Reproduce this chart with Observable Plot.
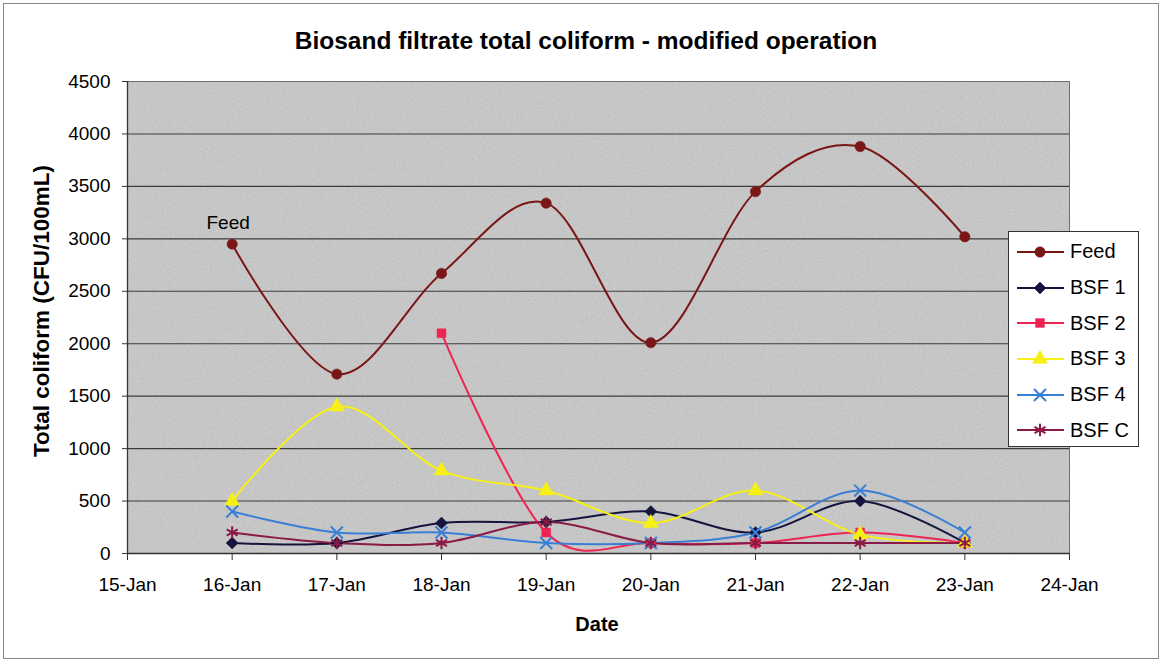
<!DOCTYPE html>
<html>
<head>
<meta charset="utf-8">
<script src="https://cdn.jsdelivr.net/npm/d3@7"></script>
<script src="https://cdn.jsdelivr.net/npm/@observablehq/plot@0.6"></script>
<style>
  html, body { margin: 0; padding: 0; background: #fff; }
  #wrap { position: relative; width: 1162px; height: 662px; font-family: "Liberation Sans", Arial, sans-serif; color: #000; overflow: hidden; }
  #border { position: absolute; left: 3px; top: 3px; width: 1154px; height: 654px; border: 1.5px solid #8a8a8a; pointer-events: none; }
  #title { position: absolute; left: 0; top: 27px; width: 1172px; text-align: center; font-weight: bold; font-size: 24.5px; }
  #xtitle { position: absolute; left: 547px; width: 100px; top: 613px; text-align: center; font-weight: bold; font-size: 20px; }
  #ytitle { position: absolute; left: 42px; top: 311px; transform: translate(-50%, -50%) rotate(-90deg); white-space: nowrap; font-weight: bold; font-size: 22.5px; }
  #legend { position: absolute; left: 1008px; top: 231px; width: 131px; height: 216px; border: 1.2px solid #333; background: #fff; box-sizing: border-box; padding-top: 2px; }
  .row { height: 35.7px; display: flex; align-items: center; font-size: 20px; }
  .row svg { flex: none; }
  .row span { margin-left: 1px; }
  #chart { position: absolute; left: 0; top: 0; }
</style>
</head>
<body>
<div id="wrap">
  <div id="chart"></div>
  <div id="title">Biosand filtrate total coliform - modified operation</div>
  <div id="xtitle">Date</div>
  <div id="ytitle">Total coliform (CFU/100mL)</div>
  <div id="legend"></div>
  <div id="border"></div>
</div>
<script>
// ---- data ----
const dayNums = [16, 17, 18, 19, 20, 21, 22, 23];
const feed = [2950, 1710, 2670, 3340, 2010, 3450, 3880, 3020];
const bsf1 = [100, 100, 290, 300, 400, 200, 500, 100];
const bsf2 = [null, null, 2100, 200, 100, 100, 200, 100];
const bsf3 = [500, 1400, 790, 600, 290, 600, 180, 100];
const bsf4 = [400, 200, 200, 100, 100, 200, 600, 200];
const bsfC = [200, 100, 100, 300, 100, 100, 100, 100];
const seriesNames = ["Feed", "BSF 1", "BSF 2", "BSF 3", "BSF 4", "BSF C"];
const seriesValues = [feed, bsf1, bsf2, bsf3, bsf4, bsfC];
const xDomainDays = [15, 24];
const yTicks = [0, 500, 1000, 1500, 2000, 2500, 3000, 3500, 4000, 4500];
const annotation = {series: "Feed", day: 16, text: "Feed"};

// ---- styles ----
const styles = {
  "Feed":  {color: "#7a1616", symbol: "circle",   filled: true,  r: 5.2},
  "BSF 1": {color: "#14143e", symbol: "diamond2", filled: true,  r: 5.4},
  "BSF 2": {color: "#ee2452", symbol: "square",   filled: true,  r: 5.0},
  "BSF 3": {color: "#f6f015", symbol: "triangle", filled: true,  r: 5.6},
  "BSF 4": {color: "#3a7fd6", symbol: "times",    filled: false, r: 5.5},
  "BSF C": {color: "#8a1a46", symbol: "asterisk", filled: false, r: 6.0}
};

const toDate = d => new Date(Date.UTC(2007, 0, d));
const rows = [];
seriesNames.forEach((name, i) => {
  seriesValues[i].forEach((v, j) => {
    if (v != null) rows.push({series: name, date: toDate(dayNums[j]), value: v});
  });
});

const lineMarks = [];
const dotMarks = [];
for (const name of seriesNames) {
  const s = styles[name];
  const data = rows.filter(r => r.series === name);
  lineMarks.push(Plot.line(data, {x: "date", y: "value", stroke: s.color, strokeWidth: 2, curve: "cardinal"}));
  dotMarks.push(Plot.dot(data, s.filled
    ? {x: "date", y: "value", symbol: s.symbol, r: s.r, fill: s.color, stroke: s.color, strokeWidth: 0.5}
    : {x: "date", y: "value", symbol: s.symbol, r: s.r, stroke: s.color, strokeWidth: 2, fill: "none"}));
}

const annRow = rows.filter(r => r.series === annotation.series && +r.date === +toDate(annotation.day));

const svg = Plot.plot({
  width: 1162,
  height: 662,
  marginLeft: 127,
  marginRight: 93,
  marginTop: 81,
  marginBottom: 109,
  style: {fontFamily: "'Liberation Sans', Arial, sans-serif", fontSize: "19px", color: "#000", background: "transparent", overflow: "visible"},
  x: {type: "utc", domain: xDomainDays.map(toDate)},
  y: {domain: [0, 4500]},
  marks: [
    Plot.frame({fill: "#cbcbcb"}),
    Plot.frame({fill: "#cbcbcb", className: "noise"}),
    Plot.gridY(yTicks, {stroke: "#3c3c3c", strokeOpacity: 1, strokeWidth: 1.1}),
    Plot.frame({stroke: "#6e6e6e", strokeWidth: 1}),
    Plot.axisY(yTicks, {tickSize: 5, tickPadding: 12, stroke: "#333", label: null, tickFormat: d => String(d), fontSize: 19}),
    Plot.axisX({ticks: d3.utcDay.every(1), tickFormat: d3.utcFormat("%-d-%b"), tickSize: 7, tickPadding: 17, stroke: "#333", label: null, fontSize: 19}),
    Plot.ruleY([0], {stroke: "#333", strokeWidth: 1.3}),
    Plot.ruleX([toDate(xDomainDays[0])], {stroke: "#333", strokeWidth: 1.3}),
    ...lineMarks,
    ...dotMarks,
    Plot.text(annRow, {x: "date", y: "value", text: () => annotation.text, dy: -21, dx: -4, fontSize: 19, fill: "#000"})
  ]
});

// subtle scanned-paper texture on the plot area
const ns = "http://www.w3.org/2000/svg";
const defs = document.createElementNS(ns, "defs");
defs.innerHTML = `<filter id="noiseF" x="0" y="0" width="1" height="1" filterUnits="objectBoundingBox">
  <feTurbulence type="fractalNoise" baseFrequency="0.9" numOctaves="2" seed="7" result="t"/>
  <feColorMatrix in="t" type="matrix" values="0.33 0.33 0.33 0 0  0.33 0.33 0.33 0 0  0.33 0.33 0.33 0 0  0 0 0 0 0.3"/>
</filter>`;
svg.insertBefore(defs, svg.firstChild);
d3.select(svg).selectAll(".noise").attr("filter", "url(#noiseF)");

document.getElementById("chart").appendChild(svg);

// ---- legend ----
const legend = d3.select("#legend");
const symMap = {circle: d3.symbolCircle, diamond2: d3.symbolDiamond2, square: d3.symbolSquare, triangle: d3.symbolTriangle, times: d3.symbolTimes, asterisk: d3.symbolAsterisk};
for (const name of seriesNames) {
  const s = styles[name];
  const row = legend.append("div").attr("class", "row");
  const g = row.append("svg").attr("width", 60).attr("height", 22);
  g.append("line").attr("x1", 8).attr("x2", 55).attr("y1", 11).attr("y2", 11).attr("stroke", s.color).attr("stroke-width", 2);
  const path = d3.symbol(symMap[s.symbol], Math.PI * s.r * s.r)();
  const p = g.append("path").attr("d", path).attr("transform", "translate(31,11)");
  if (s.filled) p.attr("fill", s.color).attr("stroke", s.color).attr("stroke-width", 0.5);
  else p.attr("fill", "none").attr("stroke", s.color).attr("stroke-width", 2);
  row.append("span").text(name);
}
</script>
</body>
</html>
